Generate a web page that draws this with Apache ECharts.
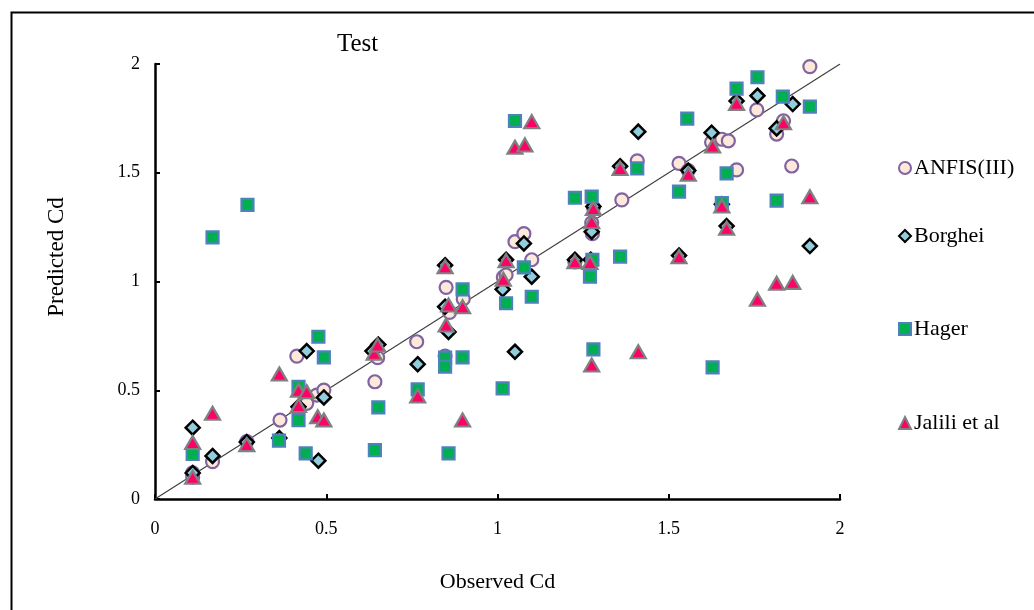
<!DOCTYPE html>
<html>
<head>
<meta charset="utf-8">
<script src="https://cdn.jsdelivr.net/npm/echarts@6/dist/echarts.min.js"></script>
<style>
  html, body { margin: 0; padding: 0; background: #fff; }
  #main { width: 1034px; height: 610px; }
</style>
</head>
<body>
<div id="main"></div>
<script>
// observed / predicted Cd
var anfis = [
  [0.11, 0.12], [0.11, 0.10], [0.168, 0.172], [0.268, 0.264], [0.365, 0.363],
  [0.414, 0.657], [0.443, 0.44], [0.472, 0.478], [0.493, 0.501], [0.642, 0.539],
  [0.65, 0.65], [0.764, 0.723], [0.847, 0.657], [0.85, 0.973], [0.86, 0.858],
  [0.9, 0.92], [1.017, 1.02], [1.025, 1.03], [1.051, 1.183], [1.077, 1.22],
  [1.1, 1.10], [1.226, 1.09], [1.275, 1.27], [1.277, 1.22], [1.28, 1.34],
  [1.363, 1.375], [1.408, 1.555], [1.53, 1.543], [1.557, 1.51], [1.625, 1.64],
  [1.655, 1.654], [1.674, 1.647], [1.698, 1.513], [1.757, 1.789], [1.815, 1.678],
  [1.835, 1.739], [1.859, 1.531], [1.912, 1.988]
];
var borghei = [
  [0.11, 0.328], [0.11, 0.12], [0.168, 0.198], [0.268, 0.262], [0.363, 0.28],
  [0.419, 0.424], [0.443, 0.68], [0.477, 0.176], [0.493, 0.467], [0.635, 0.68],
  [0.652, 0.71], [0.767, 0.62], [0.847, 1.075], [0.847, 0.884], [0.857, 0.768],
  [1.015, 0.964], [1.025, 1.10], [1.051, 0.677], [1.077, 1.175], [1.1, 1.022],
  [1.226, 1.10], [1.275, 1.229], [1.28, 1.345], [1.272, 1.10], [1.358, 1.53],
  [1.411, 1.689], [1.53, 1.12], [1.557, 1.51], [1.625, 1.684], [1.655, 1.355],
  [1.669, 1.255], [1.698, 1.83], [1.759, 1.854], [1.815, 1.704], [1.862, 1.816],
  [1.912, 1.163]
];
var hager = [
  [0.11, 0.207], [0.168, 1.203], [0.27, 1.352], [0.362, 0.268], [0.419, 0.516],
  [0.419, 0.363], [0.44, 0.21], [0.477, 0.746], [0.493, 0.651], [0.642, 0.225],
  [0.652, 0.421], [0.767, 0.504], [0.847, 0.65], [0.847, 0.608], [0.857, 0.21],
  [0.898, 0.964], [0.898, 0.651], [1.015, 0.509], [1.025, 0.9], [1.077, 1.065],
  [1.051, 1.738], [1.1, 0.93], [1.226, 1.385], [1.275, 1.39], [1.277, 1.10],
  [1.27, 1.022], [1.28, 0.688], [1.358, 1.114], [1.408, 1.52], [1.53, 1.413],
  [1.554, 1.749], [1.628, 0.605], [1.655, 1.36], [1.669, 1.497], [1.698, 1.887],
  [1.759, 1.939], [1.815, 1.372], [1.833, 1.85], [1.912, 1.804]
];
var jalili = [
  [0.11, 0.26], [0.11, 0.10], [0.168, 0.394], [0.268, 0.25], [0.363, 0.575],
  [0.419, 0.50], [0.443, 0.493], [0.419, 0.43], [0.475, 0.378], [0.493, 0.363],
  [0.64, 0.67], [0.65, 0.708], [0.767, 0.474], [0.847, 1.068], [0.85, 0.80],
  [0.857, 0.892], [0.898, 0.884], [0.898, 0.363], [1.017, 1.01], [1.025, 1.096],
  [1.051, 1.617], [1.08, 1.628], [1.1, 1.735], [1.226, 1.091], [1.27, 1.087],
  [1.275, 1.275], [1.28, 1.336], [1.275, 0.616], [1.358, 1.52], [1.411, 0.677],
  [1.53, 1.114], [1.557, 1.493], [1.628, 1.623], [1.655, 1.347], [1.669, 1.245],
  [1.698, 1.819], [1.759, 0.918], [1.815, 0.992], [1.835, 1.73], [1.862, 0.996],
  [1.912, 1.39]
];
var oneToOne = [[0, 0], [2, 2]];
var seriesNames = ['ANFIS(III)', 'Borghei', 'Hager', 'Jalili et al'];
var legendTops = [152, 220, 313, 407];

var serif = 'Liberation Serif';
var chart = echarts.init(document.getElementById('main'));

var legends = seriesNames.map(function (n, i) {
  return {
    data: [n],
    left: 893,
    top: legendTops[i],
    itemWidth: 12,
    itemHeight: 12,
    itemGap: 4,
    textStyle: { fontFamily: serif, fontSize: 22, color: '#000', padding: [0, 0, 0, -2] }
  };
});

var option = {
  animation: false,
  backgroundColor: '#fff',
  title: {
    text: 'Test',
    left: 332,
    top: 27,
    textStyle: { fontFamily: serif, fontSize: 25, fontWeight: 'normal', color: '#000' }
  },
  legend: legends,
  grid: { left: 155, right: 194, top: 64, bottom: 111 },
  xAxis: {
    type: 'value', min: 0, max: 2, interval: 0.5,
    name: 'Observed Cd', nameLocation: 'middle', nameGap: 72,
    nameTextStyle: { fontFamily: serif, fontSize: 22, color: '#000' },
    axisLine: { lineStyle: { color: '#000', width: 2.5 } },
    axisTick: { inside: true, length: 5, lineStyle: { color: '#000', width: 2 } },
    axisLabel: { fontFamily: serif, fontSize: 18, color: '#000', margin: 21 },
    splitLine: { show: false }
  },
  yAxis: {
    type: 'value', min: 0, max: 2, interval: 0.5,
    axisLine: { show: true, lineStyle: { color: '#000', width: 2.5 } },
    axisTick: { show: true, inside: true, length: 5, lineStyle: { color: '#000', width: 2 } },
    axisLabel: { fontFamily: serif, fontSize: 18, color: '#000', margin: 15 },
    splitLine: { show: false }
  },
  graphic: [
    { type: 'rect', left: 9, top: 10, shape: { width: 1040, height: 620 },
      style: { fill: null, stroke: '#000', lineWidth: 2 }, silent: true },
    { type: 'text', x: 57, y: 257, rotation: Math.PI / 2,
      style: { text: 'Predicted Cd', font: '23px "Liberation Serif"', fill: '#000',
               textAlign: 'center', textVerticalAlign: 'middle' } }
  ],
  series: [
    {
      name: 'line', type: 'line', data: oneToOne, showSymbol: false, silent: true,
      lineStyle: { color: '#404040', width: 1.2 }, z: 1
    },
    {
      name: 'ANFIS(III)', type: 'scatter', data: anfis, symbol: 'circle', symbolSize: 13,
      itemStyle: { color: '#FDE9D9', borderColor: '#8064A2', borderWidth: 2.2, opacity: 1 }
    },
    {
      name: 'Borghei', type: 'scatter', data: borghei, symbol: 'diamond', symbolSize: [14, 14],
      itemStyle: { color: '#92CDDC', borderColor: '#000', borderWidth: 2.5, opacity: 1 }
    },
    {
      name: 'Hager', type: 'scatter', data: hager, symbol: 'rect', symbolSize: 12,
      itemStyle: { color: '#00B050', borderColor: '#4F81BD', borderWidth: 2.2, opacity: 1 }
    },
    {
      name: 'Jalili et al', type: 'scatter', data: jalili, symbol: 'triangle', symbolSize: [15, 13],
      itemStyle: { color: '#FF0066', borderColor: '#808080', borderWidth: 2.2, opacity: 1 }
    }
  ]
};

chart.setOption(option);
</script>
</body>
</html>
